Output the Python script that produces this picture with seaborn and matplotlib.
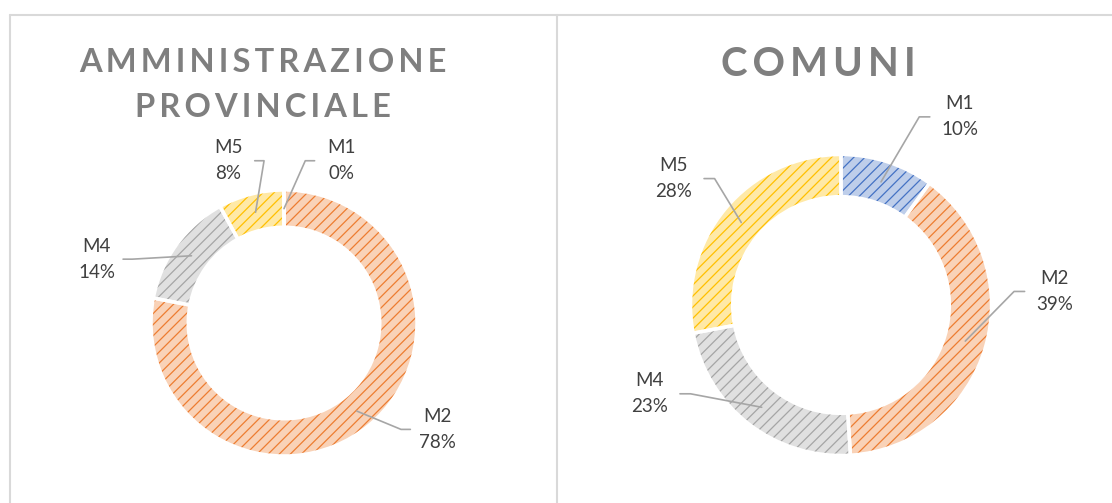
import numpy as np
import seaborn as sns
from matplotlib import pyplot as plt
from matplotlib.lines import Line2D

# data
categories_prov = ["M1", "M2", "M4", "M5"]
values_prov = [0, 78, 14, 8]
categories_com = ["M1", "M2", "M4", "M5"]
values_com = [10, 39, 23, 28]
title_prov = "AMMINISTRAZIONE\nPROVINCIALE"
title_com = "COMUNI"

sns.set_theme(style="white")
plt.rcParams["font.family"] = ["Lato", "DejaVu Sans"]
plt.rcParams["hatch.linewidth"] = 0.9

base = dict(zip(["M1", "M2", "M4", "M5"],
                sns.color_palette(["#4472C4", "#ED7D31", "#A5A5A5", "#FFC000"])))

W, H = 1112, 503
fig = plt.figure(figsize=(W / 100, H / 100), dpi=100)

# label positions (radius units, relative to donut centre)
label_pos_prov = {"M1": (0.43, 1.22), "M2": (1.15, -0.80), "M4": (-1.41, 0.48), "M5": (-0.42, 1.22)}
label_pos_com = {"M1": (0.79, 1.25), "M2": (1.42, 0.09), "M4": (-1.27, -0.59), "M5": (-1.11, 0.84)}


def spaced(s, sep="\u2009"):
    return "\n".join(sep.join(line) for line in s.split("\n"))


def lighten(c, f=0.65):
    c = np.array(c)
    return tuple(c + (1 - c) * f)


def donut(px_left, px_right, cx, cy, r, cats, vals, labels_at, title, tsize, tx, ty):
    ax = fig.add_axes([px_left / W, 0, (px_right - px_left) / W, (H - 15) / H])
    cols = [base[c] for c in cats]
    wedges, _ = ax.pie(vals, colors=[lighten(c) for c in cols], startangle=90,
                       counterclock=False, radius=1,
                       wedgeprops=dict(width=0.28, linewidth=0))
    for w, c in zip(wedges, cols):
        w.set_edgecolor(c)
        w.set_hatch("///")
        w.set_linewidth(0)
    ax.pie(vals, colors=["none"] * len(vals), startangle=90, counterclock=False,
           radius=1, wedgeprops=dict(width=0.28, edgecolor="white", linewidth=2.5))
    ax.set_aspect("auto")
    ax.set_xlim((px_left - cx) / r, (px_right - cx) / r)
    ax.set_ylim((cy - H) / r, (cy - 15) / r)
    ax.axis("off")
    total = sum(vals)
    for w, cat, v in zip(wedges, cats, vals):
        ang = np.deg2rad((w.theta1 + w.theta2) / 2)
        px, py = 0.86 * np.cos(ang), 0.86 * np.sin(ang)
        lx, ly = labels_at[cat]
        side = 1 if lx > px else -1
        ex = lx - side * 0.2
        elx = ex - side * 0.07
        ax.add_line(Line2D([px, elx, ex], [py, ly, ly], color="#A6A6A6", lw=1.2))
        ax.text(lx, ly, f"{cat}\n{round(v / total * 100)}%", ha="center", va="center",
                fontsize=13.5, color="#404040", linespacing=1.65)
    fig.text(tx / W, 1 - ty / H, spaced(title), ha="center", va="center",
             fontsize=tsize, fontweight="bold", color="#7F7F7F", linespacing=1.7)
    return ax


donut(10, 557, 284, 323, 133, categories_prov, values_prov, label_pos_prov, title_prov, 23.5, 263, 85)
donut(557, 1112, 841, 305, 150.5, categories_com, values_com, label_pos_com, title_com, 29, 818, 65)

# chart frames
for xs, ys in [([10, W], [15, 15]), ([10, 10], [15, H]), ([556.5, 556.5], [15, H])]:
    fig.add_artist(Line2D(np.array(xs) / W, 1 - np.array(ys) / H, color="#D9D9D9", lw=1.5))

fig.savefig("out.png", dpi=100)
